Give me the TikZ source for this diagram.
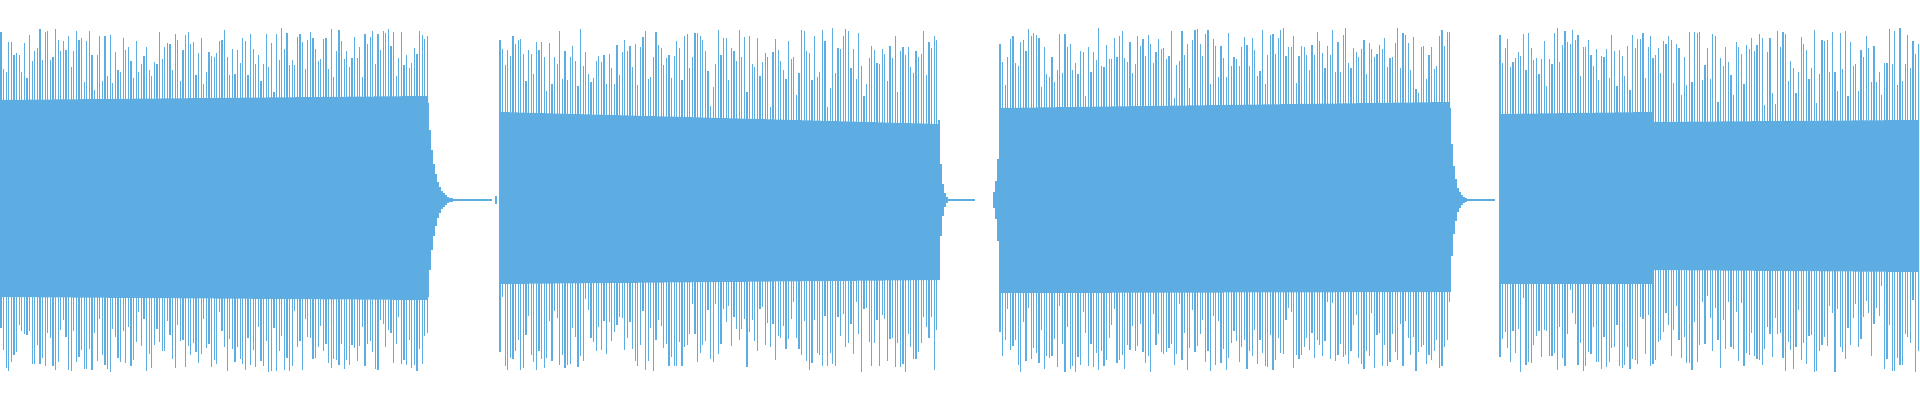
\documentclass[tikz,border=0pt]{standalone}
\definecolor{wv}{RGB}{93,172,226}
\begin{document}
\begin{tikzpicture}[x=0.01cm,y=0.01cm,wave/.style={wv},spk/.style={draw=wv,line width=0.35pt}]
\useasboundingbox (0,0) rectangle (1920,400);
\pgfmathsetseed{7}
\foreach \a/\b/\ht/\hb/\hte/\hbe in {1/428/100/97/104/100, 500/939/88/84/76/80, 1000/1450/92/93/98/92, 1500/1653/86/84/88/84, 1653/1919/78/70/80/72}{
  \fill[wave] (\a,200-\hb) -- (\a,200+\ht) -- (\b,200+\hte) -- (\b,200-\hbe) -- cycle;
  \pgfmathsetmacro\n{int((\b-\a)/2.6)}
  \foreach \i in {0,...,\n}{
    \pgfmathsetmacro\xx{\a+\i*2.6}
    \pgfmathsetmacro\f{(\xx-\a)/(\b-\a)}
    \pgfmathsetmacro\ct{\ht+(\hte-\ht)*\f}
    \pgfmathsetmacro\cb{\hb+(\hbe-\hb)*\f}
    \pgfmathsetmacro\u{\ct+5+(172-\ct-5)*sqrt(rnd)}
    \pgfmathsetmacro\l{\cb+5+(172-\cb-5)*sqrt(rnd)}
    \draw[spk] (\xx,200+\u) -- (\xx,200-\l);
  }
}
% tails
\draw[spk,line width=0.3pt] (428,200) -- (492,200);
\foreach \x in {428,430,...,462}{
  \pgfmathsetmacro\A{97*exp(-(\x-428)/6)}
  \draw[spk] (\x,200+\A) -- (\x,200-\A);
}
\draw[spk] (496,196) -- (496,204);
\draw[spk,line width=0.3pt] (939,200) -- (975,200);
\foreach \x in {939,941,...,949}{
  \pgfmathsetmacro\A{80*exp(-(\x-939)/2.5)}
  \draw[spk] (\x,200+\A) -- (\x,200-\A);
}
\foreach \x in {994,996,...,1000}{
  \pgfmathsetmacro\A{92*exp(-(1000-\x)/2.5)}
  \draw[spk] (\x,200+\A) -- (\x,200-\A);
}
\draw[spk,line width=0.3pt] (1450,200) -- (1495,200);
\foreach \x in {1450,1452,...,1466}{
  \pgfmathsetmacro\A{92*exp(-(\x-1450)/4)}
  \draw[spk] (\x,200+\A) -- (\x,200-\A);
}
\end{tikzpicture}
\end{document}
